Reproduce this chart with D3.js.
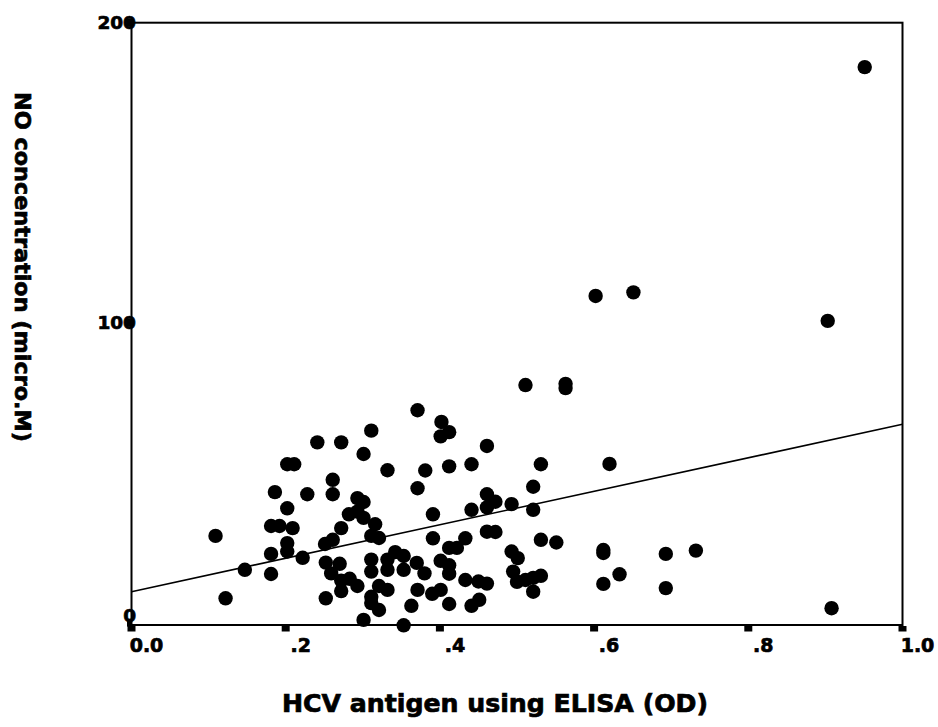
<!DOCTYPE html>
<html>
<head>
<meta charset="utf-8">
<script src="https://cdn.jsdelivr.net/npm/d3@7"></script>
<style>
  body { margin: 0; background: #fff; }
  svg text { font-family: "DejaVu Sans", sans-serif; font-weight: bold; fill: #000; stroke: #000; stroke-width: 0.7px; }
</style>
</head>
<body>
<div id="chart"></div>
<script>
(function() {

  // HCV antigen OD (x) and NO concentration (y)
  var hcvOD = [
    0.109,0.122,0.147,0.181,0.181,0.181,0.192,0.202,0.202,0.209,
    0.202,0.186,0.202,0.211,0.228,0.241,0.222,0.252,0.259,0.270,
    0.252,0.272,0.272,0.283,0.293,0.301,0.251,0.261,0.272,0.261,
    0.261,0.272,0.301,0.311,0.293,0.301,0.282,0.293,0.301,0.311,
    0.321,0.316,0.371,0.332,0.381,0.371,0.311,0.311,0.332,0.332,
    0.342,0.353,0.353,0.370,0.380,0.321,0.332,0.311,0.311,0.321,
    0.371,0.363,0.353,0.402,0.412,0.401,0.412,0.441,0.461,0.531,
    0.521,0.461,0.472,0.461,0.493,0.521,0.441,0.391,0.461,0.472,
    0.391,0.433,0.412,0.422,0.531,0.551,0.493,0.501,0.401,0.412,
    0.412,0.433,0.450,0.461,0.495,0.500,0.511,0.521,0.531,0.521,
    0.390,0.401,0.412,0.441,0.451,0.511,0.563,0.563,0.602,0.651,
    0.903,0.951,0.620,0.612,0.612,0.693,0.732,0.633,0.612,0.693,
    0.908
  ];

  var noConc = [
    28.9,8.1,17.6,16.2,22.9,32.2,32.2,26.5,23.7,31.5,
    38.1,43.5,52.8,52.8,42.8,60.1,21.6,20.0,16.4,19.6,
    8.1,10.5,14.0,14.6,12.2,0.9,26.2,27.6,31.5,47.6,
    42.8,60.1,56.2,64.0,41.5,40.2,36.1,37.0,34.9,28.9,
    28.2,32.8,70.8,50.8,50.7,44.8,21.0,17.0,21.0,17.6,
    23.5,22.2,17.6,19.9,16.4,12.2,10.9,8.6,6.5,4.2,
    10.9,5.6,-0.9,66.9,63.5,62.1,52.1,52.8,58.9,52.8,
    45.3,42.8,40.3,38.4,39.5,37.6,37.6,36.1,30.3,30.2,
    28.1,28.1,24.9,24.9,27.6,26.7,23.7,21.5,20.6,19.1,
    16.3,14.2,13.7,13.0,17.0,13.6,14.2,14.9,15.6,10.3,
    9.6,10.9,6.2,5.6,7.6,79.2,79.6,78.2,108.9,110.1,
    100.6,185.2,52.9,24.2,23.2,22.9,24.0,16.1,12.9,11.5,
    4.8
  ];

  var xTicks = [0, 0.2, 0.4, 0.6, 0.8, 1.0],
      xTickLabels = ["0.0", ".2", ".4", ".6", ".8", "1.0"];

  var yTicks = [0, 100, 200],
      yTickLabels = ["0", "100", "200"];

  // linear fit line drawn on the chart
  var fitIntercept = 10.3,
      fitSlope = 55.8;

  var width = 938,
      height = 727;

  var x = d3.scaleLinear()
      .domain([0, 1])
      .range([131.5, 902.5]);

  var y = d3.scaleLinear()
      .domain([-0.8, 200])
      .range([625, 22.7]);

  var svg = d3.select("#chart").append("svg")
      .attr("width", width)
      .attr("height", height);

  // y tick labels (the tick square sits over the last digit)
  svg.selectAll(".ylab")
      .data(yTicks)
    .enter().append("text")
      .attr("class", "ylab")
      .attr("x", 136)
      .attr("y", function(d) { return Math.min(y(d), y.range()[0] - 10); })
      .attr("dy", "0.36em")
      .attr("text-anchor", "end")
      .style("font-size", "18.5px")
      .text(function(d, i) { return yTickLabels[i]; });

  svg.selectAll(".ytick")
      .data(yTicks)
    .enter().append("rect")
      .attr("class", "ytick")
      .attr("x", 127)
      .attr("y", function(d) { return y(d) - 4; })
      .attr("width", 5)
      .attr("height", 8)
      .attr("fill", "#000");

  svg.selectAll(".xtick")
      .data(xTicks)
    .enter().append("rect")
      .attr("class", "xtick")
      .attr("x", function(d) { return x(d) - 4; })
      .attr("y", 626)
      .attr("width", 8)
      .attr("height", 5.5)
      .attr("fill", "#000");

  svg.selectAll(".xlab")
      .data(xTicks)
    .enter().append("text")
      .attr("class", "xlab")
      .attr("x", function(d) { return x(d) + 15; })
      .attr("y", 652)
      .attr("text-anchor", "middle")
      .style("font-size", "19px")
      .text(function(d, i) { return xTickLabels[i]; });

  // plot frame
  svg.append("rect")
      .attr("x", x(0))
      .attr("y", y(200))
      .attr("width", x(1) - x(0))
      .attr("height", y(-0.8) - y(200))
      .attr("fill", "none")
      .attr("stroke", "#000")
      .attr("stroke-width", 2);

  // fit line
  svg.append("line")
      .attr("x1", x(0))
      .attr("y1", y(fitIntercept))
      .attr("x2", x(1))
      .attr("y2", y(fitIntercept + fitSlope))
      .attr("stroke", "#000")
      .attr("stroke-width", 1.6);

  svg.selectAll(".dot")
      .data(hcvOD)
    .enter().append("circle")
      .attr("class", "dot")
      .attr("cx", function(d) { return x(d); })
      .attr("cy", function(d, i) { return y(noConc[i]); })
      .attr("r", 7.2)
      .attr("fill", "#000");

  svg.append("text")
      .attr("x", 495)
      .attr("y", 712)
      .attr("text-anchor", "middle")
      .attr("textLength", 426)
      .attr("lengthAdjust", "spacingAndGlyphs")
      .style("font-size", "24px")
      .text("HCV antigen using ELISA (OD)");

  svg.append("text")
      .attr("transform", "translate(15,267) rotate(90)")
      .attr("text-anchor", "middle")
      .attr("textLength", 350)
      .attr("lengthAdjust", "spacingAndGlyphs")
      .style("font-size", "22px")
      .text("NO concentration (micro.M)");

})()
</script>
</body>
</html>
